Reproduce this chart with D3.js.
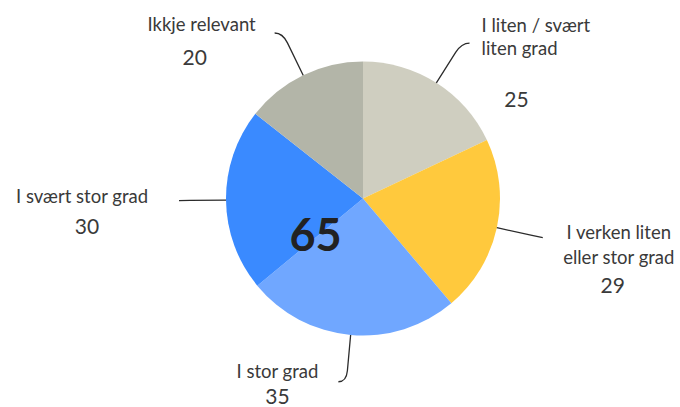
<!DOCTYPE html>
<html>
<head>
<meta charset="utf-8">
<script src="https://cdn.jsdelivr.net/npm/d3@7"></script>
<style>
  body { margin: 0; background: #fff; }
  svg { display: block; }
</style>
</head>
<body>
<div class="chart"></div>
<script>
// data, clockwise from 12 o'clock
let labels = [
    ["I liten / svært", "liten grad"],
    ["I verken liten", "eller stor grad"],
    ["I stor grad"],
    ["I svært stor grad"],
    ["Ikkje relevant"]
]
let values = [25, 29, 35, 30, 20]
let palette = ["#cfcec0", "#ffc93d", "#70a7ff", "#3a8aff", "#b3b5a8"]
let highlight = values[2] + values[3]   // stor + svært stor

// label placement, relative to end of leader line
let layout = [
    {anchor: "start",  dx: 12,  dy: [-11, 12], ndx: 47,  ndy: 64},
    {anchor: "middle", dx: 76,  dy: [1, 26],   ndx: 70,  ndy: 55},
    {anchor: "middle", dx: -61, dy: [-4],      ndx: -61, ndy: 22},
    {anchor: "middle", dx: -97, dy: [2],       ndx: -92, ndy: 33},
    {anchor: "middle", dx: -73, dy: [-2],      ndx: -80, ndy: 32}
]

let width = 680,
    height = 407,
    cx = 363,
    cy = 198.5,
    radius = 137

let svg = d3.select(".chart")
    .append("svg")
    .attr("width", width)
    .attr("height", height)
    .attr("font-family", "Lato, 'Open Sans', sans-serif")

let g = svg.append("g").attr("transform", `translate(${cx},${cy})`)

let pie = d3.pie().sort(null).value(d => d)
let arcs = pie(values)

let arc = d3.arc().innerRadius(0).outerRadius(radius)
let ring = r => d3.arc().innerRadius(r).outerRadius(r)

g.selectAll("path.slice")
    .data(arcs)
    .join("path")
    .attr("class", "slice")
    .attr("d", arc)
    .attr("fill", (d, i) => palette[i])

// leader lines; the steep ones get a small hook at the end
let hook = 8
let ends = arcs.map(d => {
    let p0 = ring(radius).centroid(d)
    let p1 = ring(radius + 36).centroid(d)
    let p2 = ring(radius + 47).centroid(d)
    let steep = Math.abs(p2[1]) > Math.abs(p2[0])
    let side = p2[0] < 0 ? -1 : 1
    let p3 = steep ? [p2[0] + side * hook, p2[1]] : p2
    return {p0, p1, p2, p3}
})

g.selectAll("path.leader")
    .data(ends)
    .join("path")
    .attr("class", "leader")
    .attr("d", e => `M${e.p0}L${e.p1}Q${e.p2} ${e.p3}`)
    .attr("fill", "none")
    .attr("stroke", "#2b2b2b")
    .attr("stroke-width", 1.3)

// labels
let lab = g.selectAll("g.label")
    .data(arcs)
    .join("g")
    .attr("class", "label")
    .attr("fill", "#3a3a3a")

lab.each(function(d, i) {
    let e = ends[i].p3, L = layout[i]
    let sel = d3.select(this)
    labels[i].forEach((t, k) => {
        sel.append("text")
            .attr("x", e[0] + L.dx)
            .attr("y", e[1] + L.dy[k])
            .attr("text-anchor", L.anchor)
            .attr("font-size", 18.5)
            .text(t)
    })
    sel.append("text")
        .attr("x", e[0] + L.ndx)
        .attr("y", e[1] + L.ndy)
        .attr("text-anchor", "middle")
        .attr("font-size", 21)
        .text(values[i])
})

// big total for the two "stor" slices
let mid = d3.arc().innerRadius(radius * 0.42).outerRadius(radius * 0.42)
    .centroid({startAngle: arcs[2].endAngle - 0.1, endAngle: arcs[2].endAngle - 0.1})
g.append("text")
    .attr("x", mid[0] - 7)
    .attr("y", mid[1] + 12)
    .attr("text-anchor", "middle")
    .attr("font-size", 45)
    .attr("font-weight", "bold")
    .attr("fill", "#222")
    .text(highlight)
</script>
</body>
</html>
